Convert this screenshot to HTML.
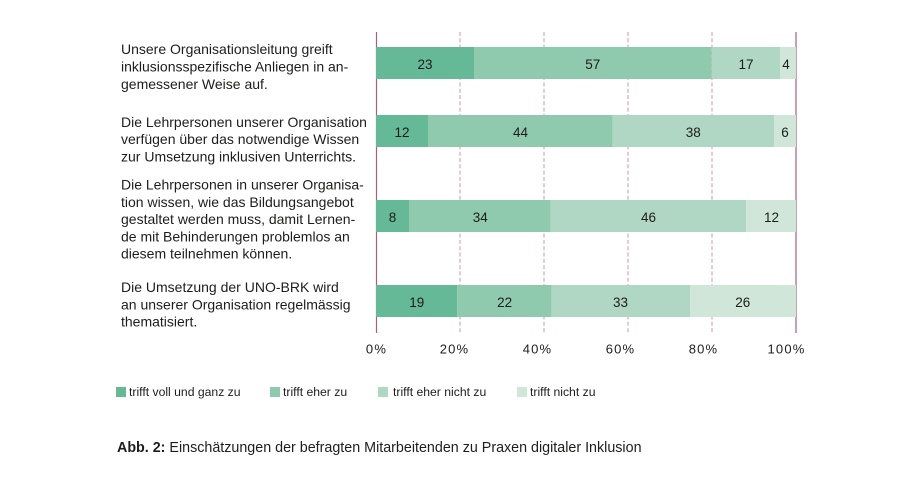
<!DOCTYPE html>
<html>
<head>
<meta charset="utf-8">
<style>
  html, body { margin: 0; padding: 0; background: #ffffff; }
  body { width: 901px; height: 499px; overflow: hidden; }
  svg { display: block; }
  text { font-family: "Liberation Sans", "DejaVu Sans", sans-serif; fill: #1d1d1b; }
</style>
</head>
<body>
<svg width="901" height="499" viewBox="0 0 901 499" xmlns="http://www.w3.org/2000/svg">
  <rect x="0" y="0" width="901" height="499" fill="#ffffff"/>

  <!-- grid lines -->
  <g stroke="#c79aae" stroke-width="1" stroke-dasharray="4 2.3">
    <line x1="460" y1="32" x2="460" y2="333"/>
    <line x1="544" y1="32" x2="544" y2="333"/>
    <line x1="628" y1="32" x2="628" y2="333"/>
    <line x1="712" y1="32" x2="712" y2="333"/>
  </g>
  <g stroke="#a5617f" stroke-width="1.2">
    <line x1="376.5" y1="32" x2="376.5" y2="333"/>
    <line x1="796" y1="32" x2="796" y2="333"/>
  </g>

  <!-- bar 1 -->
  <rect x="376" y="47" width="98" height="32" fill="#66b996"/>
  <rect x="474" y="47" width="237.7" height="32" fill="#8fcaae"/>
  <rect x="711.7" y="47" width="68.3" height="32" fill="#b0d7c4"/>
  <rect x="780" y="47" width="16" height="32" fill="#cfe6d9"/>
  <!-- bar 2 -->
  <rect x="376" y="115" width="52" height="32" fill="#66b996"/>
  <rect x="428" y="115" width="184.7" height="32" fill="#8fcaae"/>
  <rect x="612.7" y="115" width="161.3" height="32" fill="#b0d7c4"/>
  <rect x="774" y="115" width="22" height="32" fill="#cfe6d9"/>
  <!-- bar 3 -->
  <rect x="376" y="200" width="33" height="32" fill="#66b996"/>
  <rect x="409" y="200" width="141.7" height="32" fill="#8fcaae"/>
  <rect x="550.7" y="200" width="195.3" height="32" fill="#b0d7c4"/>
  <rect x="746" y="200" width="50" height="32" fill="#cfe6d9"/>
  <!-- bar 4 -->
  <rect x="376" y="285" width="81.3" height="32" fill="#66b996"/>
  <rect x="457.3" y="285" width="94.4" height="32" fill="#8fcaae"/>
  <rect x="551.7" y="285" width="138.3" height="32" fill="#b0d7c4"/>
  <rect x="690" y="285" width="106" height="32" fill="#cfe6d9"/>

  <!-- bar values -->
  <g font-size="13.5" text-anchor="middle">
    <text x="425" y="69">23</text>
    <text x="592.8" y="69">57</text>
    <text x="746" y="69">17</text>
    <text x="786" y="69">4</text>

    <text x="402" y="137">12</text>
    <text x="520.5" y="137">44</text>
    <text x="693.3" y="137">38</text>
    <text x="785" y="137">6</text>

    <text x="392.5" y="222">8</text>
    <text x="480.3" y="222">34</text>
    <text x="648.5" y="222">46</text>
    <text x="771.5" y="222">12</text>

    <text x="416.8" y="307">19</text>
    <text x="504.6" y="307">22</text>
    <text x="620.5" y="307">33</text>
    <text x="742.8" y="307">26</text>
  </g>

  <!-- category labels -->
  <g font-size="14">
    <text x="121" y="54">Unsere Organisationsleitung greift</text>
    <text x="121" y="71.5">inklusionsspezifische Anliegen in an-</text>
    <text x="121" y="89">gemessener Weise auf.</text>

    <text x="121" y="127">Die Lehrpersonen unserer Organisation</text>
    <text x="121" y="144">verfügen über das notwendige Wissen</text>
    <text x="121" y="161.5">zur Umsetzung inklusiven Unterrichts.</text>

    <text x="121" y="189.5">Die Lehrpersonen in unserer Organisa-</text>
    <text x="121" y="206.8">tion wissen, wie das Bildungsangebot</text>
    <text x="121" y="224">gestaltet werden muss, damit Lernen-</text>
    <text x="121" y="241.3">de mit Behinderungen problemlos an</text>
    <text x="121" y="258.5">diesem teilnehmen können.</text>

    <text x="121" y="292">Die Umsetzung der UNO-BRK wird</text>
    <text x="121" y="309.3">an unserer Organisation regelmässig</text>
    <text x="121" y="326.5">thematisiert.</text>
  </g>

  <!-- axis tick labels -->
  <g font-size="13" text-anchor="middle" letter-spacing="1.2">
    <text x="376.5" y="353.5">0%</text>
    <text x="454.5" y="353.5">20%</text>
    <text x="537.5" y="353.5">40%</text>
    <text x="620.5" y="353.5">60%</text>
    <text x="703.5" y="353.5">80%</text>
    <text x="786.5" y="353.5">100%</text>
  </g>

  <!-- legend -->
  <rect x="116" y="387" width="10" height="10" fill="#66b996"/>
  <rect x="270" y="387" width="10" height="10" fill="#8fcaae"/>
  <rect x="378" y="387" width="10" height="10" fill="#b0d7c4"/>
  <rect x="517" y="387" width="10" height="10" fill="#cfe6d9"/>
  <g font-size="12.2">
    <text x="129" y="396">trifft voll und ganz zu</text>
    <text x="283" y="396">trifft eher zu</text>
    <text x="393" y="396">trifft eher nicht zu</text>
    <text x="530" y="396">trifft nicht zu</text>
  </g>

  <!-- caption -->
  <text x="117" y="452" font-size="14.3"><tspan font-weight="bold">Abb. 2:</tspan> Einschätzungen der befragten Mitarbeitenden zu Praxen digitaler Inklusion</text>
</svg>
</body>
</html>
